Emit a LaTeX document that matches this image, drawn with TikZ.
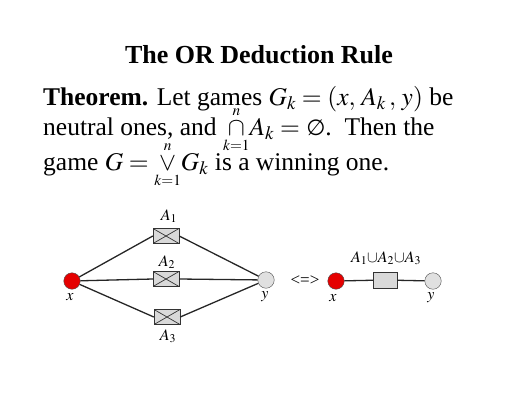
\documentclass[tikz,border=0pt]{standalone}
\usepackage{mathptmx}
\usepackage{fontspec}
\setmainfont{Liberation Serif}
\newfontfamily\dvsans{DejaVu Sans}
\newcommand{\stkop}[3]{\mathop{#1}\limits^{\scriptscriptstyle #2}_{\scriptscriptstyle #3}}
\begin{document}
\begin{tikzpicture}[x=1pt,y=-1pt,
  txt/.style={inner sep=0pt,anchor=base west,font=\fontsize{25.5}{28}\selectfont},
  lbl/.style={inner sep=0pt,font=\fontsize{16}{18}\selectfont},
  vred/.style={circle,draw=black!70,fill=red!90!black,minimum size=16.5pt,inner sep=0pt},
  vgray/.style={circle,draw=black!70,fill=black!12,minimum size=16.5pt,inner sep=0pt},
  gbox/.style={rectangle,draw=black!80,fill=black!15,minimum width=26pt,minimum height=15pt,inner sep=0pt},
  xbox/.style={gbox,path picture={\draw[black!80,line width=0.7pt] (path picture bounding box.north west)--(path picture bounding box.south east) (path picture bounding box.south west)--(path picture bounding box.north east);}},
  edge/.style={line width=1.3pt,black!85}]
\useasboundingbox (0,0) rectangle (517,400);
\node[inner sep=0pt,anchor=base,font=\fontsize{26}{28}\selectfont\bfseries] (title) at (259,63) {The OR Deduction Rule};
\node[txt] (l1) at (43,105) {\textbf{Theorem.} Let games $G_k = (x,\, A_k\,,\, y)$ be};
\node[txt] (l2) at (43,135) {neutral ones, and $\stkop{\cap}{n}{k=1}\!A_k = $ {\dvsans\fontsize{22}{24}\selectfont ∅}.\ \ Then the};
\node[txt] (l3) at (43,170) {game $G = \stkop{\vee}{n}{k=1}\!G_k$ is a winning one.};
% left graph
\node[vred] (x1) at (72,281) {};
\node[vgray] (y1) at (266,280) {};
\node[xbox] (b1) at (166,236) {};
\node[xbox] (b2) at (166,279) {};
\node[xbox] (b3) at (167,317) {};
\draw[edge] (x1) -- (b1.west) (b1.east) -- (y1);
\draw[edge] (x1) -- (b2.west) (b2.east) -- (y1);
\draw[edge] (x1) -- (b3.west) (b3.east) -- (y1);
\node[lbl] (la1) at (169,216) {$A_1$};
\node[lbl] (la2) at (167,262) {$A_2$};
\node[lbl] (la3) at (168,336) {$A_3$};
\node[lbl] (lx1) at (70,297) {$x$};
\node[lbl] (ly1) at (265,297) {$y$};
\node[lbl,font=\fontsize{17}{19}\selectfont] (eq) at (305,281) {<=>};
% right graph
\node[vred] (x2) at (336,281) {};
\node[gbox,minimum width=24pt,minimum height=16pt] (b4) at (385,280) {};
\node[vgray] (y2) at (433,281) {};
\draw[edge] (x2) -- (b4) -- (y2);
\node[lbl] (la4) at (386,258) {$A_1{\cup}A_2{\cup}A_3$};
\node[lbl] (lx2) at (333,298) {$x$};
\node[lbl] (ly2) at (431,298) {$y$};
\end{tikzpicture}
\end{document}
